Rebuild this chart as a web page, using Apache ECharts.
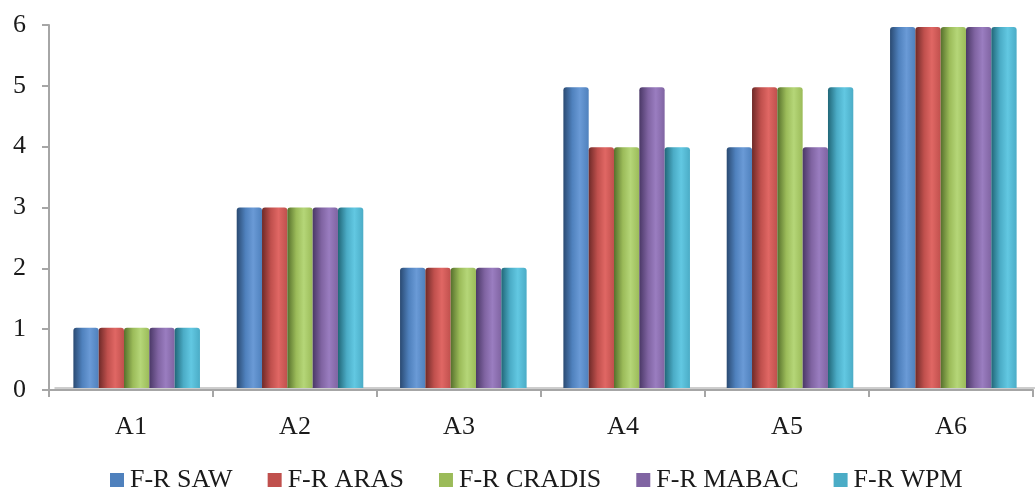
<!DOCTYPE html>
<html><head><meta charset="utf-8">
<script src="https://cdn.jsdelivr.net/npm/echarts@6/dist/echarts.min.js"></script>
<style>html,body{margin:0;padding:0;background:#fff}#c{width:1035px;height:491px}</style>
</head><body><div id="c"></div>
<script>
const categories = ['A1','A2','A3','A4','A5','A6'];
const seriesNames = ['F-R SAW','F-R ARAS','F-R CRADIS','F-R MABAC','F-R WPM'];
const sawValues    = [1,3,2,5,4,6];
const arasValues   = [1,3,2,4,5,6];
const cradisValues = [1,3,2,4,5,6];
const mabacValues  = [1,3,2,5,4,6];
const wpmValues    = [1,3,2,4,5,6];
const yTicks = [0,1,2,3,4,5,6];

const allValues = [sawValues, arasValues, cradisValues, mabacValues, wpmValues];
const baseColors = ['#4F81BD','#C0504D','#9BBB59','#8064A2','#4BACC6'];
const darkColors = ['#2A4A72','#6E2A28','#56702C','#4A3866','#216778'];
const lightColors = ['#6A9AD6','#E06764','#B5D678','#9A7DC0','#62C8E2'];

function grad(i){
  return new echarts.graphic.LinearGradient(0,0,1,0,[
    {offset:0,color:darkColors[i]},
    {offset:0.35,color:baseColors[i]},
    {offset:0.65,color:lightColors[i]},
    {offset:1,color:baseColors[i]}
  ]);
}
const font = '"Liberation Serif","Times New Roman",serif';
const chart = echarts.init(document.getElementById('c'));
chart.setOption({
  animation:false,
  backgroundColor:'#fff',
  textStyle:{fontFamily:font},
  grid:[
    {left:49, right:2, top:25, bottom:101},
    {left:55, right:-4, top:27, bottom:103}
  ],
  xAxis:[
    {type:'category', gridIndex:0, data:categories, boundaryGap:true,
     axisLine:{lineStyle:{color:'#A6A6A6',width:2}},
     axisTick:{show:true,length:7,lineStyle:{color:'#A6A6A6',width:2},alignWithLabel:false},
     axisLabel:{fontFamily:font,fontSize:26,color:'#1a1a1a',margin:24}},
    {type:'category', gridIndex:1, data:categories,
     axisLine:{show:true,lineStyle:{color:'#BDBDBD',width:1.5}},
     axisTick:{show:false}, axisLabel:{show:false}}
  ],
  yAxis:[
    {type:'value', gridIndex:0, min:0, max:6, interval:1,
     axisLine:{show:true,lineStyle:{color:'#A6A6A6',width:2}},
     axisTick:{show:true,length:7,lineStyle:{color:'#A6A6A6',width:2}},
     splitLine:{show:false},
     axisLabel:{fontFamily:font,fontSize:26,color:'#1a1a1a',margin:23,
       formatter:v=>yTicks.includes(v)?String(v):''}},
    {type:'value', gridIndex:1, min:0, max:6, interval:1,
     axisLine:{show:false}, axisTick:{show:false}, axisLabel:{show:false}, splitLine:{show:false}}
  ],
  legend:{
    left:110, top:466, padding:0, itemWidth:14, itemHeight:14, itemGap:35,
    textStyle:{fontFamily:font,fontSize:26,lineHeight:28,color:'#1a1a1a',padding:[0,0,0,1]},
    data: seriesNames.map((n,i)=>({name:n, icon:'rect', itemStyle:{color:baseColors[i]}}))
  },
  series: seriesNames.map((n,i)=>({
    name:n, type:'bar', xAxisIndex:1, yAxisIndex:1,
    data: allValues[i],
    barGap:'0%', barCategoryGap:'22.5%',
    itemStyle:{color:grad(i), borderRadius:[3,3,0,0]}
  }))
});
</script></body></html>
